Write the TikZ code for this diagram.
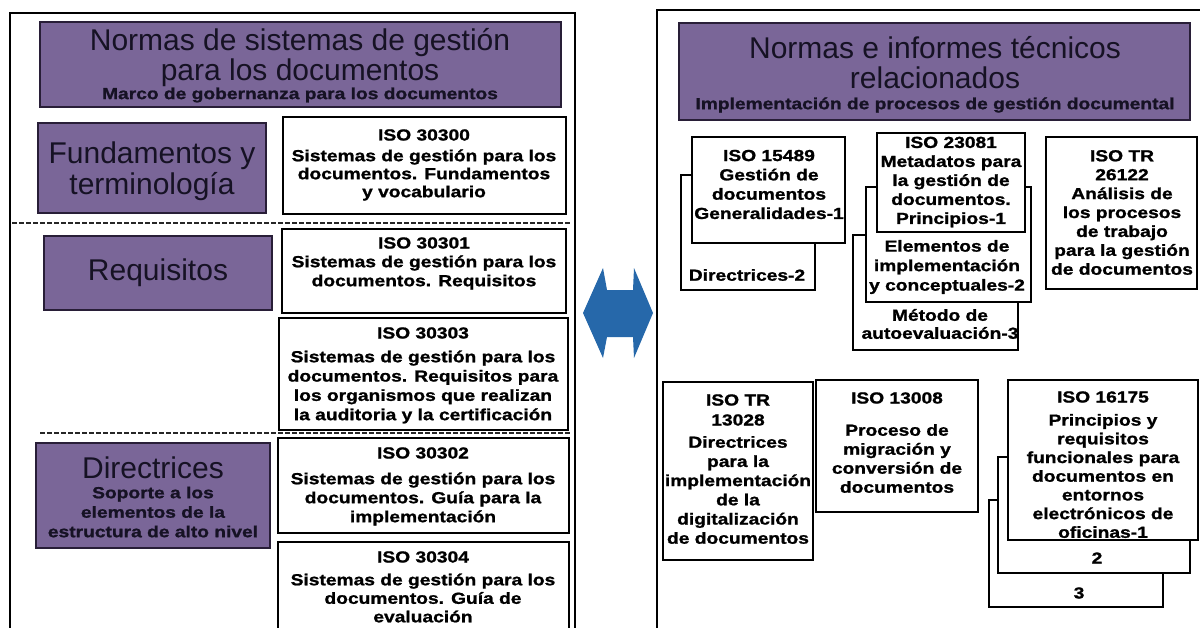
\documentclass[tikz,border=0pt]{standalone}
\usepackage{fontspec}
\setmainfont{Liberation Sans}
\newfontfamily\bxf{Liberation Sans}[FakeStretch=1.2,FakeBold=1.2]
\definecolor{purp}{RGB}{122,102,152}
\definecolor{purpline}{RGB}{40,30,55}
\definecolor{purptext}{RGB}{22,18,36}
\definecolor{arrowblue}{RGB}{38,104,170}
\begin{document}
\begin{tikzpicture}[x=1pt,y=-1pt,
  frame/.style={draw=black, line width=2.6pt},
  wbox/.style={draw=black, line width=2.6pt, fill=white, anchor=north west, inner sep=0pt, outer sep=0pt},
  pbox/.style={draw=purpline, line width=2.6pt, fill=purp, anchor=north west, inner sep=0pt, outer sep=0pt},
  big/.style={font=\fontsize{30}{30}\selectfont, align=center, inner sep=0pt, text=purptext},
  sm/.style={font=\bxf\bfseries\fontsize{16}{#1}\selectfont, align=center, inner sep=0pt, text=black},
  sm/.default=19,
  sep/.style={draw=black!85, line width=2.2pt, dash pattern=on 5pt off 2pt},
]
\useasboundingbox (0,0) rectangle (1200,627);
\clip (0,0) rectangle (1200,627);
\fill[white] (0,0) rectangle (1200,627);

% ---------------- left panel ----------------
\draw[frame] (10,13) rectangle (575,700);

\node[pbox, minimum width=521, minimum height=85] (ttlA) at (40,22) {};
\node[big] (ttlAt) at (300,57.5) {Normas de sistemas de gestión\\para los documentos};
\node[sm, text=purptext] (ttlAs) at (300,95) {Marco de gobernanza para los documentos};

\node[pbox, minimum width=228, minimum height=90] (fund) at (38,123) {};
\node[big, font=\fontsize{30}{31}\selectfont] (fundt) at (152,171) {Fundamentos y\\terminología};

\node[wbox, minimum width=283, minimum height=97] (b30300) at (283,117) {};
\node[sm] (h30300) at (424,135) {ISO 30300};
\node[sm=18] (t30300) at (424,175) {Sistemas de gestión para los\\documentos. Fundamentos\\y vocabulario};

\draw[sep] (12,223) -- (571,223);

\node[pbox, minimum width=228, minimum height=74] (req) at (44,236) {};
\node[big] (reqt) at (158,273) {Requisitos};

\node[wbox, minimum width=284, minimum height=84] (b30301) at (282,229) {};
\node[sm] (h30301) at (424,243) {ISO 30301};
\node[sm] (t30301) at (424,272.5) {Sistemas de gestión para los\\documentos. Requisitos};

\node[wbox, minimum width=289, minimum height=112] (b30303) at (279,318) {};
\node[sm] (h30303) at (423,333) {ISO 30303};
\node[sm=19.3] (t30303) at (423,387) {Sistemas de gestión para los\\documentos. Requisitos para\\los organismos que realizan\\la auditoria y la certificación};

\draw[sep] (40,433) -- (570,433);

\node[pbox, minimum width=234, minimum height=105] (dir) at (36,443) {};
\node[big] (dirt) at (153,468) {Directrices};
\node[sm=19.5, text=purptext] (dirs) at (153,512) {Soporte a los\\elementos de la\\estructura de alto nivel};

\node[wbox, minimum width=291, minimum height=95] (b30302) at (278,438) {};
\node[sm] (h30302) at (423,453) {ISO 30302};
\node[sm] (t30302) at (423,499) {Sistemas de gestión para los\\documentos. Guía para la\\implementación};

\node[wbox, minimum width=291, minimum height=108] (b30304) at (278,542) {};
\node[sm] (h30304) at (423,557) {ISO 30304};
\node[sm=18.5] (t30304) at (423,598) {Sistemas de gestión para los\\documentos. Guía de\\evaluación};

% ---------------- double arrow ----------------
\fill[arrowblue] (583,313) -- (603,268) -- (607,290) -- (633,290) -- (634,268) -- (653,313)
  -- (634,358) -- (633,337) -- (607,337) -- (603,358) -- cycle;

% ---------------- right panel ----------------
\draw[frame] (657,10) rectangle (1260,700);

\node[pbox, minimum width=511, minimum height=97] (ttlB) at (679,23) {};
\node[big] (ttlBt) at (935,63) {Normas e informes técnicos\\relacionados};
\node[sm, text=purptext] (ttlBs) at (935,105) {Implementación de procesos de gestión documental};

% ISO 15489
\node[wbox, minimum width=134, minimum height=115] (b15489b) at (681,175) {};
\node[wbox, minimum width=153, minimum height=106] (b15489) at (692,137) {};
\node[sm=19.3] (t15489) at (769,184.5) {ISO 15489\\Gestión de\\documentos\\Generalidades-1};
\node[sm] (t15489b) at (747,275) {Directrices-2};

% ISO 23081
\node[wbox, minimum width=165, minimum height=115] (b23081c) at (853,235) {};
\node[wbox, minimum width=165, minimum height=115] (b23081b) at (866,187) {};
\node[wbox, minimum width=148, minimum height=99] (b23081) at (877,133) {};
\node[sm=19] (t23081) at (951,182) {ISO 23081\\Metadatos para\\la gestión de\\documentos.\\Principios-1};
\node[sm=19.5] (t23081b) at (947,267) {Elementos de\\implementación\\y conceptuales-2};
\node[sm=18] (t23081c) at (940,324) {Método de\\autoevaluación-3};

% ISO TR 26122
\node[wbox, minimum width=151, minimum height=152] (b26122) at (1046,137) {};
\node[sm=18.9] (t26122) at (1122,212.5) {ISO TR\\26122\\Análisis de\\los procesos\\de trabajo\\para la gestión\\de documentos};

% ISO TR 13028
\node[wbox, minimum width=150, minimum height=178] (b13028) at (663,382) {};
\node[sm=20] (h13028) at (738,410) {ISO TR\\13028};
\node[sm=19.2] (t13028) at (738,490) {Directrices\\para la\\implementación\\de la\\digitalización\\de documentos};

% ISO 13008
\node[wbox, minimum width=162, minimum height=132] (b13008) at (816,380) {};
\node[sm] (h13008) at (897,398) {ISO 13008};
\node[sm=19] (t13008) at (897,458.5) {Proceso de\\migración y\\conversión de\\documentos};

% ISO 16175
\node[wbox, minimum width=174, minimum height=107] (b16175c) at (989,500) {};
\node[wbox, minimum width=192, minimum height=116] (b16175b) at (998,457) {};
\node[wbox, minimum width=190, minimum height=160] (b16175) at (1008,380) {};
\node[sm] (h16175) at (1103,397) {ISO 16175};
\node[sm=18.7] (t16175) at (1103,476) {Principios y\\requisitos\\funcionales para\\documentos en\\entornos\\electrónicos de\\oficinas-1};
\node[sm] (t16175b) at (1097,558) {2};
\node[sm] (t16175c) at (1079,593) {3};
\end{tikzpicture}
\end{document}
